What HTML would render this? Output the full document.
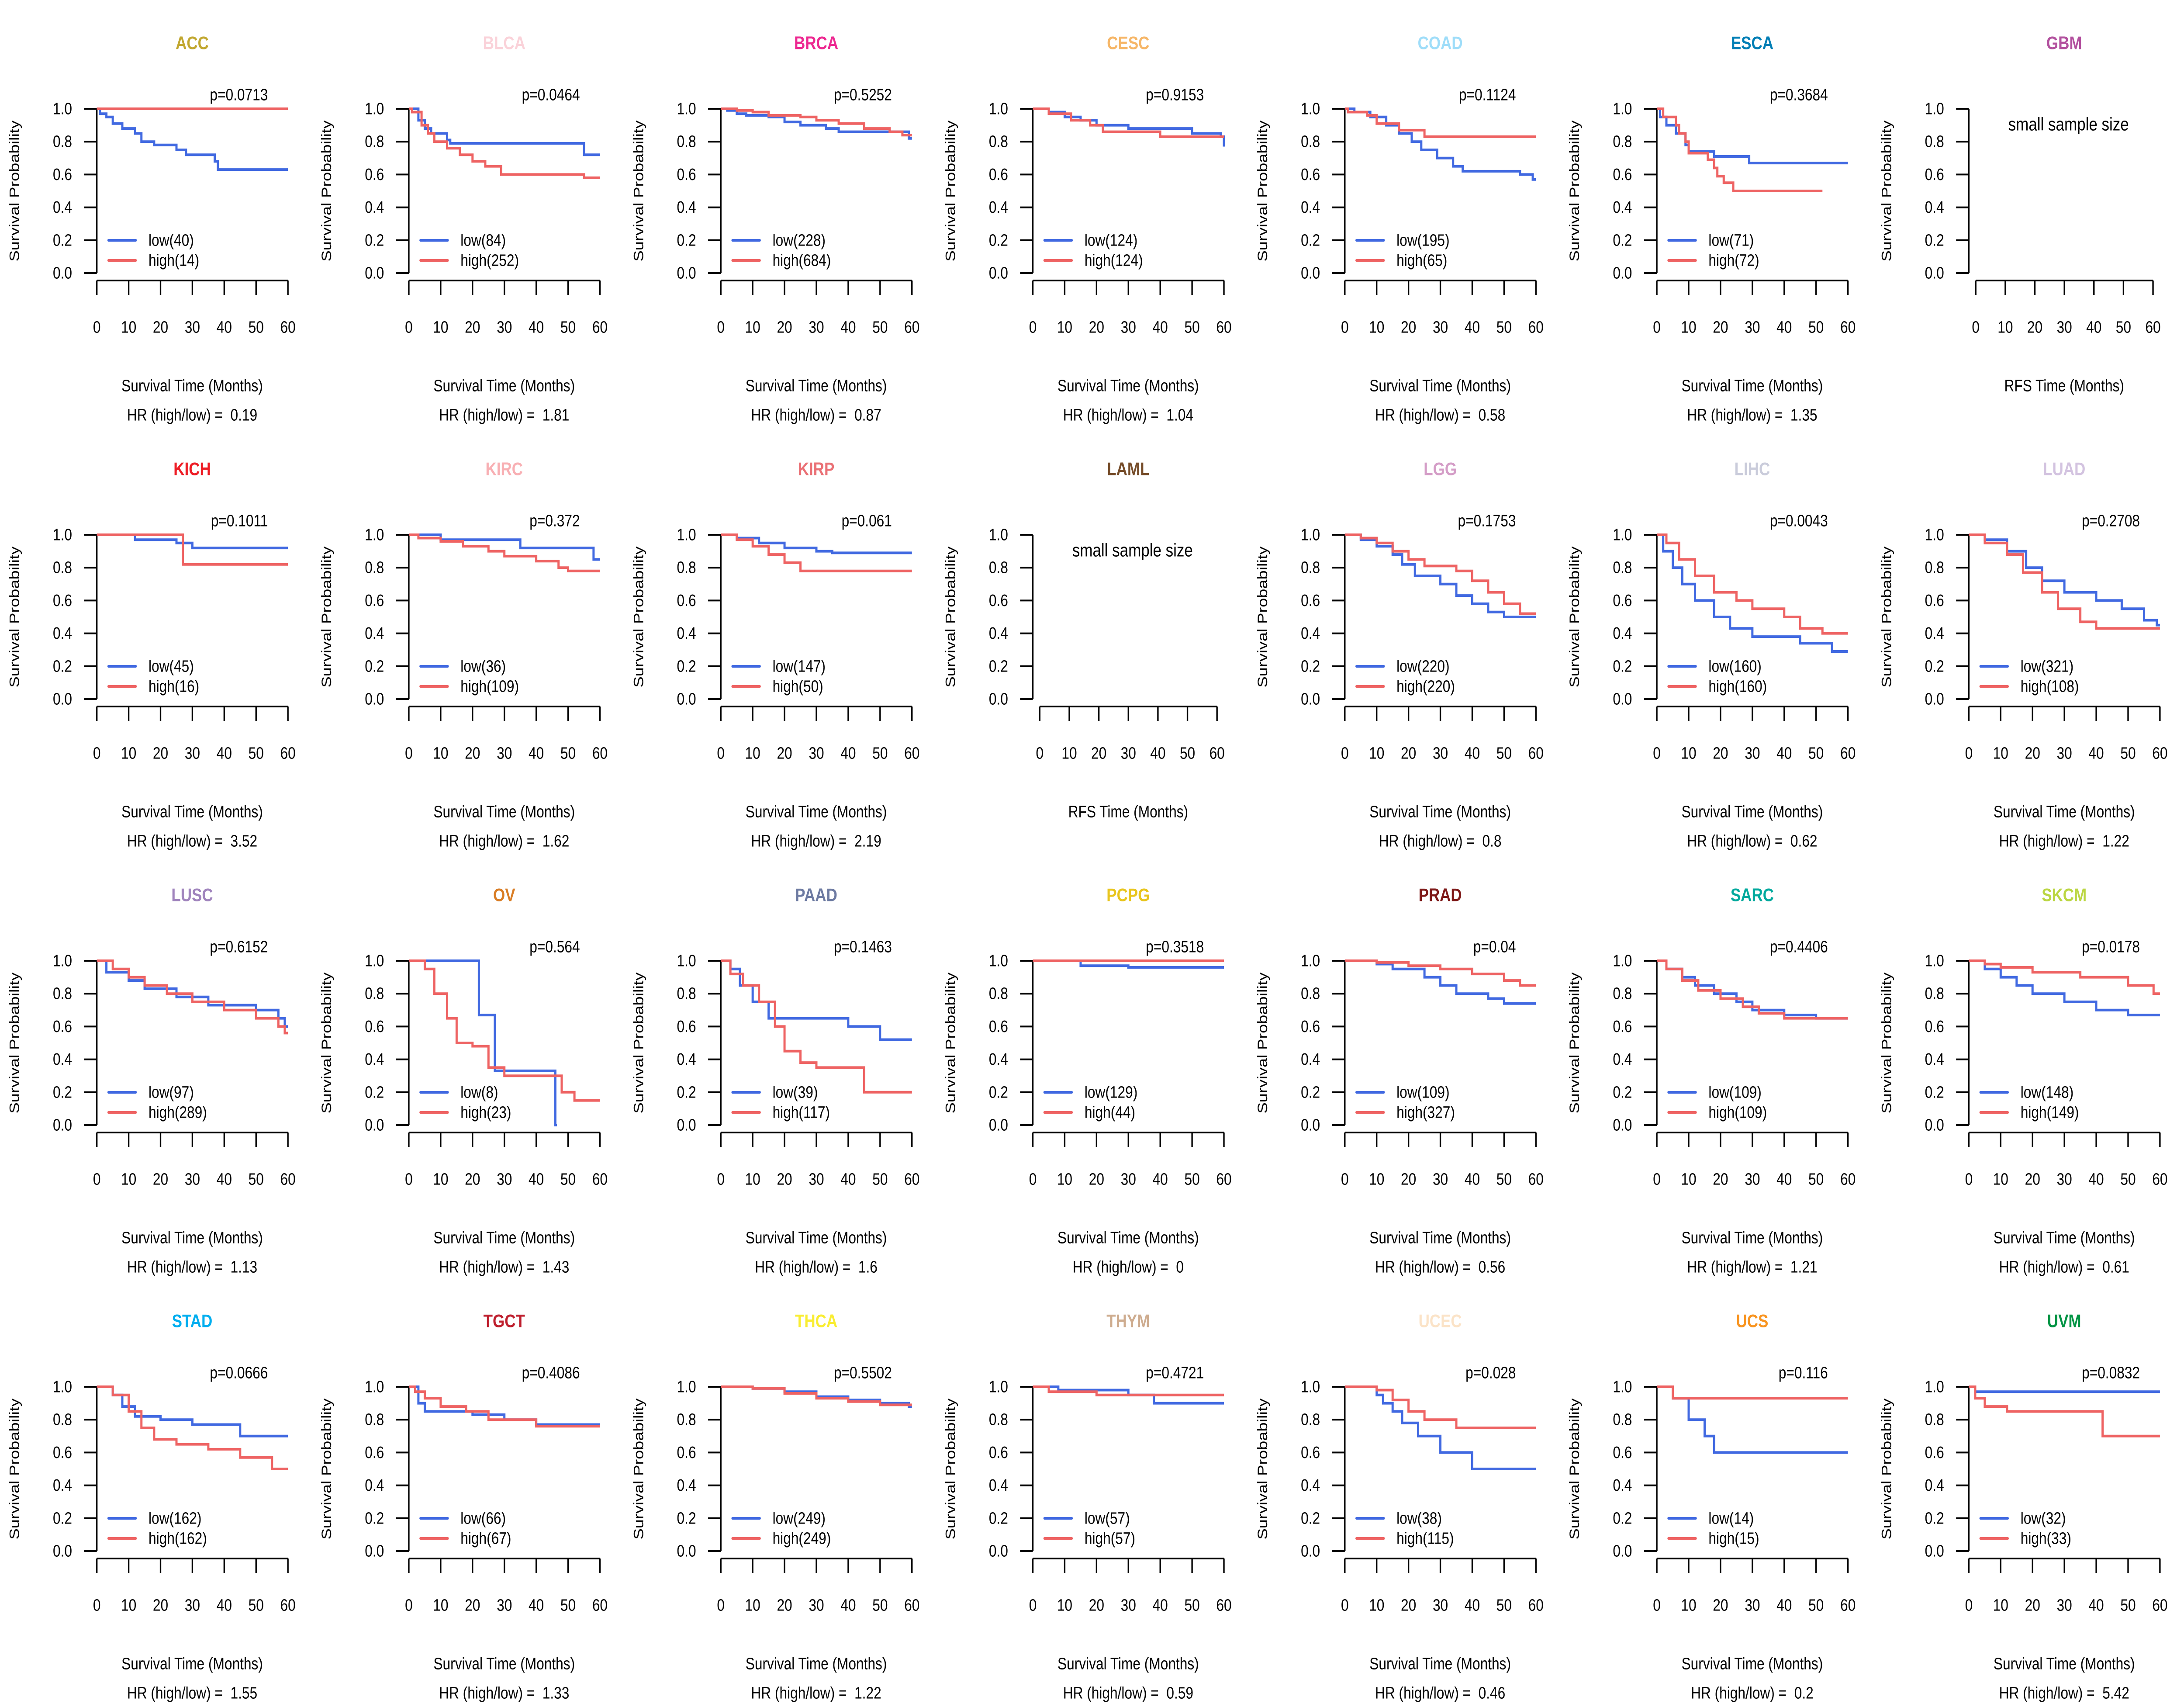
<!DOCTYPE html>
<html><head><meta charset="utf-8"><style>
html,body{margin:0;padding:0;background:#fff;width:100%;height:100%;overflow:hidden}
svg{display:block;width:100vw;height:100vh}
text{font-family:"Liberation Sans",Arial,sans-serif;white-space:pre}
</style></head><body>
<svg id="fig" viewBox="0 0 6000 3900" preserveAspectRatio="none" xmlns="http://www.w3.org/2000/svg"></svg>
<script>
const cancers=["ACC","BLCA","BRCA","CESC","COAD","ESCA","GBM","KICH","KIRC","KIRP","LAML","LGG","LIHC","LUAD","LUSC","OV","PAAD","PCPG","PRAD","SARC","SKCM","STAD","TGCT","THCA","THYM","UCEC","UCS","UVM"];
const titleColors=["#C1A72F","#FAD2D9","#ED2891","#F6B667","#9EDDF9","#007EB5","#B2509E","#ED1C24","#F8AFB3","#EA7075","#754C29","#D49DC7","#CACCDB","#D3C3E0","#A084BD","#D97D25","#6E7BA2","#E8C51D","#7E1918","#00A99D","#BBD642","#00AEEF","#BE1E2D","#F9ED32","#CEAC8F","#FBE3C7","#F89420","#009444"];
const pValues=["p=0.0713","p=0.0464","p=0.5252","p=0.9153","p=0.1124","p=0.3684","","p=0.1011","p=0.372","p=0.061","","p=0.1753","p=0.0043","p=0.2708","p=0.6152","p=0.564","p=0.1463","p=0.3518","p=0.04","p=0.4406","p=0.0178","p=0.0666","p=0.4086","p=0.5502","p=0.4721","p=0.028","p=0.116","p=0.0832"];
const hrValues=["0.19","1.81","0.87","1.04","0.58","1.35","","3.52","1.62","2.19","","0.8","0.62","1.22","1.13","1.43","1.6","0","0.56","1.21","0.61","1.55","1.33","1.22","0.59","0.46","0.2","5.42"];
const lowN=[40,84,228,124,195,71,0,45,36,147,0,220,160,321,97,8,39,129,109,109,148,162,66,249,57,38,14,32];
const highN=[14,252,684,124,65,72,0,16,109,50,0,220,160,108,289,23,117,44,327,109,149,162,67,249,57,115,15,33];
const yTicks=[0,0.2,0.4,0.6,0.8,1.0];
const yTickLabels=["0.0","0.2","0.4","0.6","0.8","1.0"];
const xTicks=[0,10,20,30,40,50,60];
const lowCurves=[
[[0,1],[1,0.97],[3,0.95],[5,0.91],[8,0.88],[12,0.85],[14,0.8],[18,0.78],[25,0.75],[28,0.72],[37,0.68],[38,0.63],[60,0.63]],
[[0,1],[3,0.93],[5,0.88],[7,0.85],[12,0.81],[13,0.79],[55,0.72],[60,0.72]],
[[0,1],[2,0.99],[5,0.97],[8,0.96],[15,0.95],[20,0.92],[25,0.9],[33,0.88],[37,0.86],[59,0.82],[60,0.82]],
[[0,1],[5,0.98],[10,0.95],[15,0.93],[20,0.9],[30,0.88],[50,0.85],[59,0.83],[60,0.77]],
[[0,1],[3,0.98],[8,0.95],[13,0.9],[17,0.85],[21,0.8],[24,0.75],[29,0.7],[34,0.65],[37,0.62],[55,0.6],[59,0.57],[60,0.57]],
[[0,1],[1,0.95],[3,0.9],[6,0.85],[9,0.78],[10,0.74],[18,0.71],[29,0.67],[60,0.67]],
[],
[[0,1],[12,0.97],[25,0.95],[30,0.92],[60,0.92]],
[[0,1],[10,0.97],[35,0.92],[58,0.85],[60,0.85]],
[[0,1],[5,0.98],[12,0.95],[20,0.92],[30,0.9],[35,0.89],[60,0.89]],
[],
[[0,1],[5,0.97],[10,0.93],[15,0.88],[18,0.82],[22,0.75],[30,0.7],[35,0.63],[40,0.58],[45,0.53],[50,0.5],[60,0.5]],
[[0,1],[2,0.9],[5,0.8],[8,0.7],[12,0.6],[18,0.5],[23,0.43],[30,0.38],[45,0.34],[55,0.29],[60,0.29]],
[[0,1],[5,0.97],[12,0.9],[18,0.8],[23,0.72],[30,0.65],[40,0.6],[48,0.55],[55,0.48],[59,0.45],[60,0.45]],
[[0,1],[3,0.93],[10,0.88],[15,0.83],[25,0.78],[35,0.73],[50,0.7],[57,0.65],[59,0.6],[60,0.6]],
[[0,1],[22,0.67],[27,0.33],[46,0],[46.5,0]],
[[0,1],[3,0.95],[6,0.85],[10,0.75],[15,0.65],[40,0.6],[50,0.52],[60,0.52]],
[[0,1],[15,0.97],[30,0.96],[60,0.96]],
[[0,1],[10,0.98],[15,0.95],[25,0.9],[30,0.85],[35,0.8],[45,0.77],[50,0.74],[60,0.74]],
[[0,1],[3,0.95],[8,0.9],[12,0.85],[18,0.8],[25,0.75],[30,0.7],[40,0.67],[50,0.65],[60,0.65]],
[[0,1],[5,0.95],[10,0.9],[15,0.85],[20,0.8],[30,0.75],[40,0.7],[50,0.67],[60,0.67]],
[[0,1],[5,0.95],[8,0.88],[12,0.82],[20,0.8],[30,0.77],[45,0.7],[60,0.7]],
[[0,1],[3,0.9],[5,0.85],[20,0.83],[30,0.8],[40,0.77],[60,0.77]],
[[0,1],[10,0.99],[20,0.97],[30,0.94],[40,0.92],[50,0.9],[59,0.88],[60,0.88]],
[[0,1],[8,0.98],[30,0.95],[38,0.9],[60,0.9]],
[[0,1],[10,0.95],[12,0.9],[15,0.85],[18,0.78],[23,0.7],[30,0.6],[40,0.5],[60,0.5]],
[[0,1],[5,0.93],[10,0.8],[15,0.7],[18,0.6],[60,0.6]],
[[0,1],[2,0.97],[60,0.97]]
];
const highCurves=[
[[0,1],[60,1]],
[[0,1],[1,0.98],[4,0.9],[6,0.85],[8,0.8],[12,0.76],[16,0.72],[20,0.68],[24,0.65],[29,0.6],[55,0.58],[60,0.58]],
[[0,1],[5,0.99],[10,0.98],[15,0.96],[25,0.95],[30,0.93],[37,0.91],[45,0.88],[53,0.86],[57,0.84],[60,0.84]],
[[0,1],[5,0.97],[12,0.93],[18,0.9],[22,0.86],[40,0.83],[60,0.83]],
[[0,1],[1,0.98],[7,0.96],[10,0.91],[17,0.87],[25,0.83],[60,0.83]],
[[0,1],[2,0.95],[3,0.95],[6,0.9],[7,0.85],[9,0.8],[10,0.73],[16,0.69],[18,0.64],[19,0.59],[21,0.55],[24,0.5],[52,0.5]],
[],
[[0,1],[27,0.82],[60,0.82]],
[[0,1],[3,0.98],[10,0.96],[17,0.93],[25,0.9],[30,0.87],[40,0.84],[47,0.8],[50,0.78],[60,0.78]],
[[0,1],[5,0.97],[10,0.93],[15,0.88],[20,0.83],[25,0.78],[60,0.78]],
[],
[[0,1],[5,0.98],[10,0.95],[15,0.9],[20,0.85],[25,0.81],[35,0.78],[40,0.72],[45,0.65],[50,0.58],[55,0.52],[60,0.52]],
[[0,1],[3,0.95],[7,0.85],[12,0.75],[18,0.65],[25,0.6],[30,0.55],[40,0.5],[45,0.43],[52,0.4],[60,0.4]],
[[0,1],[5,0.95],[12,0.88],[17,0.77],[23,0.65],[28,0.55],[35,0.47],[40,0.43],[60,0.43]],
[[0,1],[5,0.95],[10,0.9],[15,0.85],[22,0.8],[30,0.75],[40,0.7],[50,0.65],[57,0.6],[59,0.56],[60,0.56]],
[[0,1],[5,0.95],[8,0.8],[12,0.65],[15,0.5],[20,0.48],[25,0.35],[30,0.3],[48,0.2],[52,0.15],[60,0.15]],
[[0,1],[3,0.92],[7,0.85],[12,0.75],[17,0.6],[20,0.45],[25,0.38],[30,0.35],[45,0.2],[60,0.2]],
[[0,1],[60,1]],
[[0,1],[10,0.99],[20,0.97],[30,0.95],[40,0.92],[50,0.88],[55,0.85],[60,0.85]],
[[0,1],[3,0.95],[8,0.88],[13,0.82],[20,0.77],[27,0.72],[32,0.68],[40,0.65],[60,0.65]],
[[0,1],[5,0.98],[10,0.96],[20,0.93],[35,0.9],[50,0.85],[58,0.8],[60,0.8]],
[[0,1],[5,0.95],[10,0.85],[14,0.75],[18,0.68],[25,0.65],[35,0.62],[45,0.57],[55,0.5],[60,0.5]],
[[0,1],[2,0.97],[5,0.93],[10,0.88],[18,0.85],[25,0.8],[40,0.76],[60,0.76]],
[[0,1],[10,0.99],[20,0.96],[30,0.93],[40,0.91],[50,0.89],[60,0.89]],
[[0,1],[5,0.97],[20,0.95],[60,0.95]],
[[0,1],[10,0.98],[15,0.92],[20,0.85],[25,0.8],[35,0.75],[60,0.75]],
[[0,1],[5,0.93],[60,0.93]],
[[0,1],[2,0.93],[5,0.88],[12,0.85],[42,0.7],[60,0.7]]
];
const NS="http://www.w3.org/2000/svg";
const svg=document.getElementById('fig');
const PW=6000/7, PH=975;
function mk(tag,attrs,parent){const e=document.createElementNS(NS,tag);for(const k in attrs)e.setAttribute(k,attrs[k]);parent.appendChild(e);return e;}
const BLUE="#4169E1", RED="#EE6363";
cancers.forEach((name,i)=>{
  const col=i%7,row=Math.floor(i/7);
  const empty=lowCurves[i].length===0;
  const g=mk('g',{transform:`translate(${(col*PW).toFixed(2)},${row*PH})`},svg);
  
  
  const X0=empty?285:266, X1=empty?772:791, Y1=249, Y0=625;
  const xs=t=>X0+(X1-X0)*t/60, ys=v=>Y0-(Y0-Y1)*v;
  const title=mk('text',{x:528,y:99,'text-anchor':'middle','dominant-baseline':'central','font-size':42,'font-weight':'bold',fill:titleColors[i]},g);
  title.textContent=name;
  
  
  const ya=mk('g',{},g);
  
  
  mk('line',{x1:266,y1:ys(0),x2:266,y2:ys(1),stroke:'#000','stroke-width':4},ya);
  yTicks.forEach((v,k)=>{
    mk('line',{x1:231,y1:ys(v),x2:266,y2:ys(v),stroke:'#000','stroke-width':4},ya);
    const t=mk('text',{x:198,y:ys(v),'text-anchor':'end','dominant-baseline':'central','font-size':38},ya);
    t.textContent=yTickLabels[k];
  });
  const yl=mk('text',{x:40,y:437,'text-anchor':'middle','dominant-baseline':'central','font-size':38,transform:'rotate(-90 40 437)'},g);
  yl.textContent='Survival Probability';
  
  
  const xa=mk('g',{},g);
  
  
  mk('line',{x1:xs(0),y1:642,x2:xs(60),y2:642,stroke:'#000','stroke-width':4},xa);
  xTicks.forEach(v=>{
    mk('line',{x1:xs(v),y1:642,x2:xs(v),y2:675,stroke:'#000','stroke-width':4},xa);
    const t=mk('text',{x:xs(v),y:749,'text-anchor':'middle','dominant-baseline':'central','font-size':38},xa);
    t.textContent=String(v);
  });
  const xl=mk('text',{x:528,y:883,'text-anchor':'middle','dominant-baseline':'central','font-size':38},g);
  xl.textContent=empty?'RFS Time (Months)':'Survival Time (Months)';
  
  
  if(empty){
    const s=mk('text',{x:540,y:285,'text-anchor':'middle','dominant-baseline':'central','font-size':42},g);
    s.textContent='small sample size';
    
    
    return;
  }
  const hr=mk('text',{x:528,y:950,'text-anchor':'middle','dominant-baseline':'central','font-size':38},g);
  hr.textContent='HR (high/low) =  '+hrValues[i];
  
  
  const p=mk('text',{x:736,y:217,'text-anchor':'end','dominant-baseline':'central','font-size':38},g);
  p.textContent=pValues[i];
  
  
  function stepPath(c){let d=`M${xs(c[0][0])},${ys(c[0][1])}`;for(let k=1;k<c.length;k++){d+=` H${xs(c[k][0]).toFixed(1)} V${ys(c[k][1]).toFixed(1)}`;}return d;}
  const lp=mk('path',{d:stepPath(lowCurves[i]),fill:'none',stroke:BLUE,'stroke-width':6},g);
  
  
  const hp=mk('path',{d:stepPath(highCurves[i]),fill:'none',stroke:RED,'stroke-width':6},g);
  
  
  const lg=mk('g',{},g);
  
  
  const e1=mk('g',{},lg);
  
  
  mk('line',{x1:298,y1:550,x2:373,y2:550,stroke:BLUE,'stroke-width':6,'stroke-linecap':'round'},e1);
  const t1=mk('text',{x:408,y:550,'dominant-baseline':'central','font-size':38},e1);
  t1.textContent='low('+lowN[i]+')';
  const e2=mk('g',{},lg);
  
  
  mk('line',{x1:298,y1:596,x2:373,y2:596,stroke:RED,'stroke-width':6,'stroke-linecap':'round'},e2);
  const t2=mk('text',{x:408,y:596,'dominant-baseline':'central','font-size':38},e2);
  t2.textContent='high('+highN[i]+')';
});
</script>
</body></html>
